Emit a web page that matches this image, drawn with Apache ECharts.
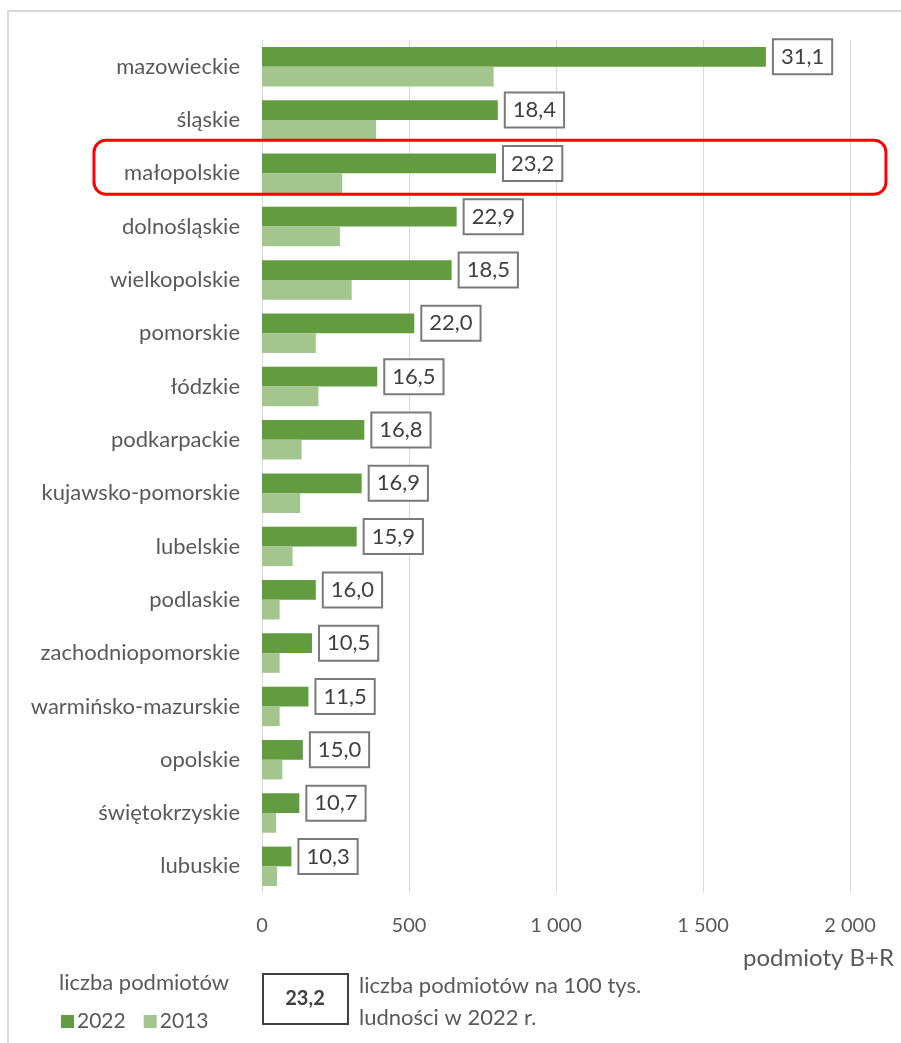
<!DOCTYPE html>
<html>
<head>
<meta charset="utf-8">
<script src="https://cdn.jsdelivr.net/npm/echarts@6/dist/echarts.min.js"></script>
<style>
  html, body { margin: 0; padding: 0; background: #ffffff; }
  #chart { width: 901px; height: 1043px; }
</style>
</head>
<body>
<div id="chart"></div>
<script>
  // województwa, od góry
  const regions = [
    'mazowieckie', 'śląskie', 'małopolskie', 'dolnośląskie', 'wielkopolskie',
    'pomorskie', 'łódzkie', 'podkarpackie', 'kujawsko-pomorskie', 'lubelskie',
    'podlaskie', 'zachodniopomorskie', 'warmińsko-mazurskie', 'opolskie',
    'świętokrzyskie', 'lubuskie'
  ]
  // liczba podmiotów B+R
  const count2022 = [1714, 802, 796, 662, 645, 518, 392, 348, 339, 322, 183, 170, 158, 139, 127, 100]
  const count2013 = [788, 388, 273, 265, 305, 183, 192, 135, 130, 104, 60, 60, 60, 69, 48, 51]
  // liczba podmiotów na 100 tys. ludności w 2022 r.
  const per100k = ['31,1', '18,4', '23,2', '22,9', '18,5', '22,0', '16,5', '16,8', '16,9', '15,9', '16,0', '10,5', '11,5', '15,0', '10,7', '10,3']
  const tickLabels = ['0', '500', '1 000', '1 500', '2 000']
  const highlighted = 'małopolskie'

  const FONT = 'Lato'
  const chart = echarts.init(document.getElementById('chart'))

  chart.setOption({
    animation: false,
    textStyle: { fontFamily: FONT },
    grid: { left: 262, right: 51, top: 40, bottom: 150, containLabel: false },
    xAxis: {
      type: 'value',
      min: 0,
      max: 2000,
      interval: 500,
      axisLine: { show: false },
      axisTick: { show: false },
      splitLine: { lineStyle: { color: '#d9d9d9', width: 1 } },
      axisLabel: {
        margin: 23,
        fontSize: 20,
        color: '#595959',
        formatter: (v) => tickLabels[v / 500]
      }
    },
    yAxis: {
      type: 'category',
      inverse: true,
      data: regions,
      axisLine: { show: false },
      axisTick: { show: false },
      axisLabel: { margin: 22, fontSize: 22, color: '#595959' }
    },
    legend: {
      left: 56,
      top: 1006,
      itemWidth: 13,
      itemHeight: 13,
      itemGap: 18,
      icon: 'rect',
      textStyle: { fontSize: 21, color: '#595959', padding: [0, 0, 0, -2] },
      data: ['2022', '2013']
    },
    series: [
      {
        name: '2022',
        type: 'bar',
        data: count2022,
        barGap: '0%',
        barCategoryGap: '26%',
        itemStyle: { color: '#629b40' },
        label: {
          show: true,
          position: 'right',
          distance: 8,
          formatter: (p) => per100k[p.dataIndex],
          fontSize: 22,
          color: '#404040',
          backgroundColor: '#ffffff',
          borderColor: '#7a7a7a',
          borderWidth: 2,
          padding: [6, 7, 5, 7]
        }
      },
      {
        name: '2013',
        type: 'bar',
        data: count2013,
        itemStyle: { color: '#a3c68e' }
      }
    ]
  })

  // ramka wyróżnienia i opisy dookoła wykresu
  const hy = chart.convertToPixel({ yAxisIndex: 0 }, highlighted)
  chart.setOption({
    graphic: [
      {
        type: 'rect',
        silent: true,
        shape: { x: 8, y: 11, width: 1000, height: 1100 },
        style: { fill: null, stroke: '#d9d9d9', lineWidth: 2 }
      },
      {
        type: 'rect',
        silent: true,
        z: 100,
        shape: { x: 94, y: hy - 33, width: 792, height: 54, r: 12 },
        style: { fill: null, stroke: '#ff0000', lineWidth: 3 }
      },
      {
        type: 'text',
        right: 7,
        top: 946,
        style: { text: 'podmioty B+R', font: '24px ' + FONT, fill: '#595959' }
      },
      {
        type: 'text',
        left: 59,
        top: 972,
        style: { text: 'liczba podmiotów', font: '22px ' + FONT, fill: '#595959' }
      },
      {
        type: 'rect',
        shape: { x: 263, y: 974, width: 85, height: 50 },
        style: { fill: '#ffffff', stroke: '#404040', lineWidth: 2 }
      },
      {
        type: 'text',
        x: 305,
        y: 999,
        style: {
          text: '23,2',
          font: 'bold 20px ' + FONT,
          fill: '#404040',
          align: 'center',
          verticalAlign: 'middle'
        }
      },
      {
        type: 'text',
        left: 359,
        top: 970,
        style: {
          text: 'liczba podmiotów na 100 tys.\nludności w 2022 r.',
          font: '22px ' + FONT,
          lineHeight: 32,
          fill: '#595959'
        }
      }
    ]
  })

  window.onresize = function () {
    chart.resize()
  }
</script>
</body>
</html>
